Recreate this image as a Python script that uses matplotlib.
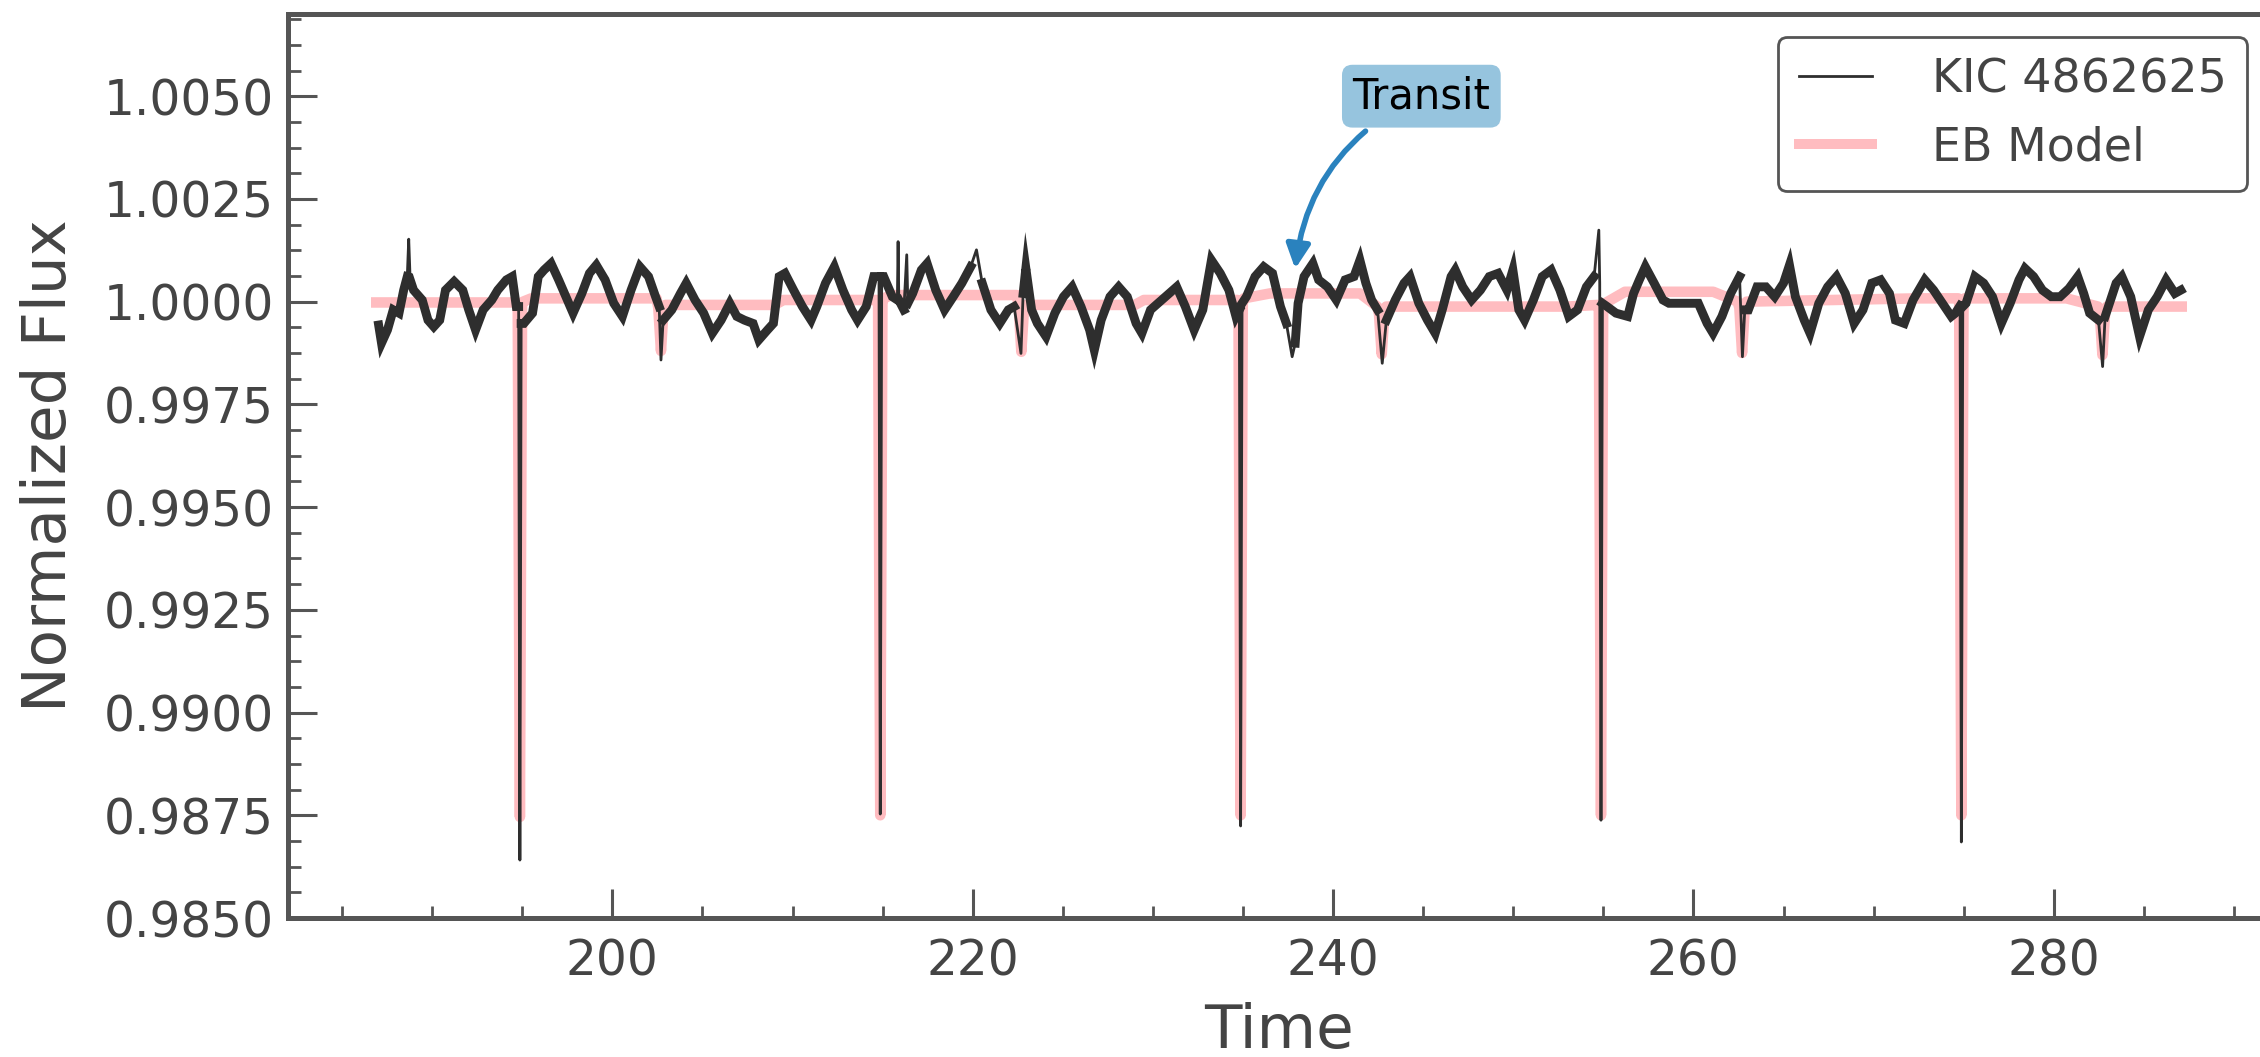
import numpy as np
import matplotlib
matplotlib.use("Agg")
import matplotlib.pyplot as plt
from matplotlib.lines import Line2D
from matplotlib.ticker import MultipleLocator, AutoMinorLocator, FormatStrFormatter

# --- light curve of KIC 4862625 --------------------------------------------
time = [
    187.03, 187.19, 187.52, 187.84, 188.16, 188.42, 188.62, 188.70, 188.78, 188.97,
    189.45, 189.77, 190.09, 190.42, 190.74, 191.22, 191.70, 192.03, 192.41, 192.83,
    193.31, 193.64, 194.12, 194.44, 194.67, 194.80, 194.87, 194.94, 195.09, 195.57,
    195.89, 196.21, 196.60, 197.02, 197.50, 197.82, 198.31, 198.73, 199.11, 199.60,
    200.08, 200.56, 201.04, 201.53, 202.01, 202.40, 202.60, 202.70, 202.82, 203.30,
    203.78, 204.10, 204.59, 205.07, 205.55, 206.04, 206.52, 206.91, 207.33, 207.81,
    208.13, 208.61, 208.94, 209.26, 209.58, 210.06, 210.55, 211.03, 211.35, 211.83,
    212.32, 212.80, 213.28, 213.61, 214.09, 214.51, 214.80, 214.87, 214.95, 215.06,
    215.54, 215.82, 215.86, 215.90, 216.18, 216.34, 216.40, 216.67, 217.15, 217.47,
    217.95, 218.44, 218.92, 219.40, 219.89, 220.21, 220.53, 221.01, 221.50, 221.98,
    222.30, 222.68, 222.80, 222.95, 223.27, 223.59, 224.07, 224.56, 225.04, 225.52,
    226.01, 226.49, 226.75, 227.13, 227.62, 228.10, 228.58, 229.07, 229.39, 229.87,
    231.32, 231.80, 232.29, 232.77, 233.25, 233.74, 234.22, 234.61, 234.80, 234.87,
    234.95, 235.19, 235.67, 236.15, 236.64, 237.08, 237.41, 237.73, 237.90, 238.06,
    238.39, 238.88, 239.20, 239.69, 240.18, 240.67, 241.16, 241.49, 241.82, 242.14,
    242.47, 242.73, 242.96, 243.45, 243.94, 244.27, 244.76, 245.24, 245.67, 246.06,
    246.55, 246.78, 247.20, 247.69, 248.18, 248.67, 249.16, 249.65, 249.98, 250.31,
    250.63, 251.12, 251.61, 252.10, 252.59, 253.08, 253.57, 254.06, 254.49, 254.75,
    254.80, 254.87, 254.95, 255.21, 255.70, 256.35, 256.68, 257.00, 257.33, 257.82,
    258.31, 258.64, 260.27, 260.76, 261.09, 261.58, 262.07, 262.56, 262.72, 262.85,
    263.05, 263.53, 264.02, 264.51, 265.00, 265.33, 265.66, 266.15, 266.47, 266.96,
    267.45, 267.94, 268.43, 268.92, 269.41, 269.90, 270.39, 270.88, 271.21, 271.70,
    272.19, 272.84, 273.33, 273.82, 274.31, 274.54, 274.80, 274.87, 274.95, 275.13,
    275.62, 276.11, 276.60, 277.09, 277.58, 278.07, 278.40, 278.88, 279.37, 279.86,
    280.35, 280.84, 281.33, 281.66, 281.99, 282.48, 282.71, 282.85, 282.97, 283.46,
    283.78, 284.27, 284.76, 285.25, 285.74, 286.23, 286.72, 287.05,
]
flux = [
    0.99943, 0.99899, 0.99931, 0.99980, 0.99972, 1.00028, 1.00061, 1.00152, 1.00053, 1.00028,
    1.00004, 0.99955, 0.99939, 0.99955, 1.00028, 1.00049, 1.00028, 0.99980, 0.99931, 0.99980,
    1.00004, 1.00028, 1.00053, 1.00061, 0.99988, 0.99988, 0.98641, 0.99947, 0.99947, 0.99972,
    1.00061, 1.00077, 1.00093, 1.00053, 1.00004, 0.99972, 1.00020, 1.00069, 1.00089, 1.00053,
    0.99996, 0.99964, 1.00028, 1.00085, 1.00061, 1.00012, 0.99988, 0.99858, 0.99955, 0.99980,
    1.00020, 1.00045, 1.00004, 0.99972, 0.99923, 0.99955, 0.99996, 0.99964, 0.99955, 0.99947,
    0.99907, 0.99931, 0.99947, 1.00061, 1.00069, 1.00028, 0.99988, 0.99955, 0.99988, 1.00045,
    1.00085, 1.00028, 0.99980, 0.99955, 0.99988, 1.00061, 1.00061, 0.98753, 1.00061, 1.00061,
    1.00012, 1.00004, 1.00146, 1.00004, 0.99980, 1.00114, 0.99996, 1.00020, 1.00077, 1.00093,
    1.00028, 0.99980, 1.00012, 1.00045, 1.00085, 1.00126, 1.00045, 0.99980, 0.99947, 0.99980,
    0.99988, 0.99874, 1.00020, 1.00081, 0.99980, 0.99947, 0.99915, 0.99972, 1.00012, 1.00036,
    0.99988, 0.99931, 0.99882, 0.99955, 1.00012, 1.00036, 1.00012, 0.99947, 0.99923, 0.99980,
    1.00036, 0.99988, 0.99931, 0.99980, 1.00101, 1.00069, 1.00028, 0.99964, 0.99980, 0.98724,
    0.99996, 1.00012, 1.00061, 1.00085, 1.00069, 0.99988, 0.99947, 0.99866, 0.99899, 0.99996,
    1.00061, 1.00093, 1.00053, 1.00036, 1.00004, 1.00053, 1.00061, 1.00101, 1.00045, 1.00004,
    0.99980, 0.99850, 0.99955, 1.00004, 1.00045, 1.00061, 0.99996, 0.99955, 0.99923, 0.99980,
    1.00061, 1.00077, 1.00036, 1.00004, 1.00028, 1.00061, 1.00069, 1.00028, 1.00077, 0.99980,
    0.99955, 1.00004, 1.00061, 1.00077, 1.00028, 0.99964, 0.99980, 1.00036, 1.00061, 1.00174,
    1.00045, 0.98738, 0.99996, 0.99988, 0.99972, 0.99964, 1.00020, 1.00053, 1.00085, 1.00045,
    1.00004, 0.99996, 0.99996, 0.99947, 0.99923, 0.99964, 1.00020, 1.00061, 0.99866, 0.99980,
    0.99980, 1.00036, 1.00036, 1.00012, 1.00045, 1.00089, 1.00012, 0.99955, 0.99923, 0.99996,
    1.00036, 1.00061, 1.00020, 0.99947, 0.99980, 1.00045, 1.00053, 1.00020, 0.99955, 0.99947,
    1.00004, 1.00053, 1.00028, 0.99996, 0.99964, 0.99972, 0.99990, 0.98685, 0.99988, 0.99996,
    1.00061, 1.00045, 1.00012, 0.99947, 0.99996, 1.00053, 1.00081, 1.00061, 1.00028, 1.00012,
    1.00012, 1.00032, 1.00061, 1.00020, 0.99972, 0.99955, 0.99842, 0.99964, 0.99980, 1.00045,
    1.00061, 1.00012, 0.99915, 0.99980, 1.00012, 1.00053, 1.00020, 1.00028,
]

# --- eclipsing-binary model -------------------------------------------------
model_time = [
    186.90, 194.70, 194.75, 194.87, 194.99, 195.05, 195.50, 202.45, 202.55, 202.70,
    202.85, 202.95, 203.20, 209.00, 209.50, 214.70, 214.75, 214.87, 214.99, 215.05,
    215.50, 222.45, 222.55, 222.70, 222.85, 222.95, 223.20, 229.00, 229.50, 234.70,
    234.75, 234.87, 234.99, 235.05, 236.50, 241.50, 242.45, 242.55, 242.70, 242.85,
    242.95, 253.00, 254.70, 254.75, 254.87, 254.99, 255.05, 256.20, 261.10, 262.45,
    262.55, 262.70, 262.85, 262.95, 272.50, 274.70, 274.75, 274.87, 274.99, 275.05,
    280.70, 282.45, 282.55, 282.70, 282.85, 282.95, 287.10,
]
model_flux = [
    0.99998, 0.99998, 0.99990, 0.98746, 0.99990, 1.00000, 1.00008, 1.00008, 0.99985, 0.99880,
    0.99985, 0.99992, 0.99992, 0.99992, 1.00004, 1.00004, 0.99995, 0.98750, 0.99995, 1.00008,
    1.00016, 1.00016, 0.99990, 0.99878, 0.99985, 0.99992, 0.99992, 0.99992, 1.00004, 1.00004,
    0.99995, 0.98750, 0.99995, 1.00008, 1.00020, 1.00020, 0.99988, 0.99970, 0.99872, 0.99970,
    0.99988, 0.99988, 0.99992, 0.99985, 0.98750, 0.99985, 0.99995, 1.00024, 1.00024, 1.00000,
    0.99985, 0.99875, 0.99985, 1.00000, 1.00008, 1.00008, 0.99998, 0.98750, 0.99998, 1.00008,
    1.00008, 0.99988, 0.99975, 0.99870, 0.99975, 0.99988, 0.99988,
]

transit_xy = (237.9, 1.0008)
transit_text_xy = (244.9, 1.0050)

C_DATA = '#2e2e2e'
C_MODEL = '#ffbcc0'
C_AXIS = '#555555'
C_TEXT = '#444444'

plt.rcParams['font.family'] = 'DejaVu Sans'

fig = plt.figure(figsize=(11.3, 5.285), dpi=200)
ax = fig.add_axes([288 / 2260, 1 - 918 / 1057, 1982 / 2260, 904 / 1057])

t = np.array(time)
f = np.array(flux)

ax.plot(model_time, model_flux, color=C_MODEL, lw=3.8, zorder=2,
        solid_joinstyle='round')
# thin trace carries the narrow dips and spikes ...
ax.plot(t, f, color=C_DATA, lw=1.0, zorder=3)
# ... and a heavier stroke gives the dense variability band
band = np.where((f < 0.9988) | (f > 1.0011), np.nan, f)
ax.plot(t, band, color=C_DATA, lw=3.2, zorder=3, solid_joinstyle='miter')

ax.set_xlim(182, 292)
ax.set_ylim(0.985, 1.007)

ax.xaxis.set_major_locator(MultipleLocator(20))
ax.xaxis.set_minor_locator(AutoMinorLocator(4))
ax.yaxis.set_major_locator(MultipleLocator(0.0025))
ax.yaxis.set_minor_locator(AutoMinorLocator(4))
ax.yaxis.set_major_formatter(FormatStrFormatter('%.4f'))

ax.tick_params(which='both', direction='in', colors=C_AXIS, labelcolor=C_TEXT,
               labelsize=17.5)
ax.tick_params(which='major', length=10.5, width=1.1)
ax.tick_params(which='minor', length=4.5, width=1.0)
ax.tick_params(axis='x', pad=7)
ax.tick_params(axis='y', pad=5)
for side in ('left', 'bottom', 'top', 'right'):
    ax.spines[side].set_color(C_AXIS)
    ax.spines[side].set_linewidth(1.8)

ax.set_xlabel('Time', fontsize=22, color=C_TEXT, labelpad=6)
ax.set_ylabel('Normalized Flux', fontsize=22, color=C_TEXT, labelpad=9)

handles = [Line2D([0], [0], color=C_DATA, lw=1.0),
           Line2D([0], [0], color=C_MODEL, lw=3.6)]
leg = ax.legend(handles, ['KIC 4862625', 'EB Model'], loc='upper right',
                fontsize=16.5, handlelength=1.6, handletextpad=1.3,
                borderpad=0.45, framealpha=1, edgecolor=C_AXIS, fancybox=True)
leg.get_frame().set_linewidth(1.0)
for txt in leg.get_texts():
    txt.set_color(C_TEXT)

ax.annotate('Transit', xy=transit_xy, xytext=transit_text_xy,
            ha='center', va='center', fontsize=15, color='black', zorder=6,
            bbox=dict(boxstyle='round,pad=0.25', fc='#96c4de', ec='none'),
            arrowprops=dict(arrowstyle='-|>', color='#2a82be', lw=2,
                            mutation_scale=18, shrinkB=0,
                            connectionstyle='arc3,rad=0.28'))

fig.savefig('out.png', dpi=200)
